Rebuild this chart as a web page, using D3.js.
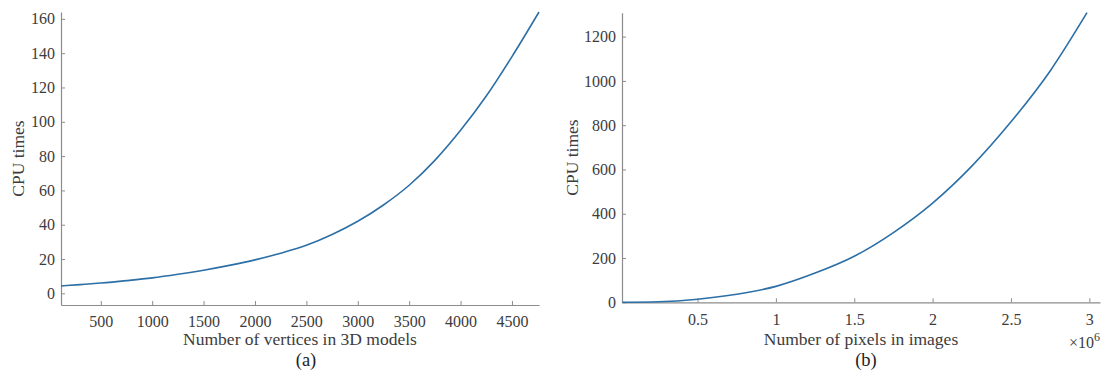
<!DOCTYPE html>
<html>
<head>
<meta charset="utf-8">
<script src="https://cdn.jsdelivr.net/npm/d3@7"></script>
<style>
  html, body { margin: 0; padding: 0; background: #fff; }
  svg text { font-family: "Liberation Serif", "Times New Roman", Times, serif !important; }
</style>
</head>
<body>
<svg id="chart" width="1105" height="374"></svg>
<script>
// Panel (a): CPU time against mesh size
const verticesX = [113, 300, 500, 750, 1000, 1250, 1500, 1750, 2000, 2250, 2500, 2750, 3000, 3250, 3500, 3750, 4000, 4250, 4500, 4763];
const verticesCpu = [4.3, 5.1, 6.0, 7.4, 9.0, 11.1, 13.5, 16.3, 19.5, 23.4, 28.0, 34.3, 42.0, 51.5, 63.0, 77.5, 95.0, 115.0, 138.0, 164.0];
const verticesTicks = [500, 1000, 1500, 2000, 2500, 3000, 3500, 4000, 4500];
const cpuTicksA = [0, 20, 40, 60, 80, 100, 120, 140, 160];

// Panel (b): CPU time against image size (pixels, in millions)
const pixelsX = [0.02, 0.25, 0.5, 0.75, 1.0, 1.25, 1.5, 1.75, 2.0, 2.25, 2.5, 2.75, 2.985];
const pixelsCpu = [0, 2.5, 14, 36, 72, 132, 208, 315, 448, 615, 815, 1045, 1308];
const pixelTicks = [0.5, 1, 1.5, 2, 2.5, 3];
const cpuTicksB = [0, 200, 400, 600, 800, 1000, 1200];

const svg = d3.select("#chart");
const axisColor = "#8c8c8c";
const textColor = "#3c3c3c";
const lineColor = "#2c6fa6";

function drawPanel(cfg) {
  const g = svg.append("g");
  const x = d3.scaleLinear().domain(cfg.xDomain).range([cfg.left, cfg.right]);
  const y = d3.scaleLinear().domain(cfg.yDomain).range([cfg.bottom, cfg.top]);
  const plain = d3.format("");

  // x axis (ticks pointing inward)
  const xAxis = g.append("g")
    .attr("transform", `translate(0,${cfg.bottom})`)
    .call(d3.axisBottom(x).tickValues(cfg.xTicks).tickSizeInner(-4).tickSizeOuter(0).tickPadding(11).tickFormat(plain));
  xAxis.select(".domain").attr("stroke", axisColor).attr("stroke-width", 1.2);
  xAxis.selectAll(".tick line").attr("stroke", axisColor);
  xAxis.selectAll(".tick text").attr("fill", textColor).attr("font-size", 16);

  // y axis
  const yAxis = g.append("g")
    .attr("transform", `translate(${cfg.left},0)`)
    .call(d3.axisLeft(y).tickValues(cfg.yTicks).tickSizeInner(-4).tickSizeOuter(0).tickPadding(6).tickFormat(plain));
  yAxis.select(".domain").attr("stroke", axisColor).attr("stroke-width", 1.2);
  yAxis.selectAll(".tick line").attr("stroke", axisColor);
  yAxis.selectAll(".tick text").attr("fill", textColor).attr("font-size", 16);

  // curve
  const line = d3.line()
    .x((d, i) => x(cfg.xs[i]))
    .y(d => y(d))
    .curve(d3.curveMonotoneX);
  g.append("path")
    .datum(cfg.ys)
    .attr("fill", "none")
    .attr("stroke", lineColor)
    .attr("stroke-width", 1.6)
    .attr("d", line);

  // labels
  g.append("text")
    .attr("x", (cfg.left + cfg.right) / 2)
    .attr("y", 345)
    .attr("text-anchor", "middle")
    .attr("font-size", 17.5)
    .attr("fill", textColor)
    .text(cfg.xLabel);

  g.append("text")
    .attr("transform", `translate(${cfg.yLabelX},${(cfg.top + cfg.bottom) / 2}) rotate(-90)`)
    .attr("text-anchor", "middle")
    .attr("font-size", 17.5)
    .attr("fill", textColor)
    .text("CPU times");

  g.append("text")
    .attr("x", cfg.captionX)
    .attr("y", 366)
    .attr("text-anchor", "middle")
    .attr("font-size", 18.5)
    .attr("fill", "#222")
    .text(cfg.caption);
  return g;
}

drawPanel({
  xs: verticesX, ys: verticesCpu,
  xDomain: [113, 4763], yDomain: [-6.8, 164],
  left: 61, right: 539, top: 12, bottom: 305,
  xTicks: verticesTicks, yTicks: cpuTicksA,
  xLabel: "Number of vertices in 3D models",
  yLabelX: 24, caption: "(a)", captionX: 306
});

const gb = drawPanel({
  xs: pixelsX, ys: pixelsCpu,
  xDomain: [0.018, 3.068], yDomain: [0, 1308],
  left: 622, right: 1100, top: 12.7, bottom: 302.3,
  xTicks: pixelTicks, yTicks: cpuTicksB,
  xLabel: "Number of pixels in images",
  yLabelX: 578, caption: "(b)", captionX: 866
});

// exponent marker for the pixel axis
const mult = gb.append("text")
  .attr("x", 1100)
  .attr("y", 348)
  .attr("text-anchor", "end")
  .attr("font-size", 16)
  .attr("fill", textColor);
mult.append("tspan").text("\u00d710");
mult.append("tspan").attr("dy", -7).attr("font-size", 12).text("6");
</script>
</body>
</html>
